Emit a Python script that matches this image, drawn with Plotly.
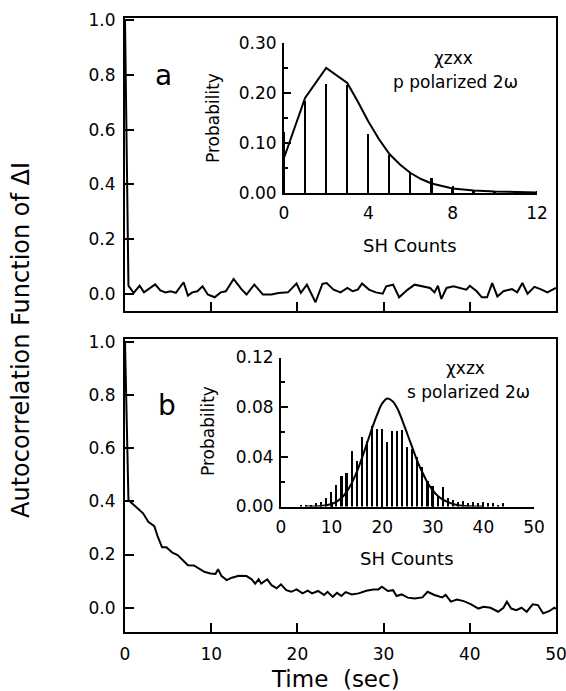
import plotly.graph_objects as go

# ---------------- data ----------------
# panel a : autocorrelation, chi_zxx
time_a = [0, 0.4, 1.0, 1.7, 2.2, 2.7, 3.5, 4.1, 4.7, 5.3,
          5.9, 6.8, 7.3, 7.8, 8.4, 9.0, 9.6, 10.4, 11.1, 11.7,
          12.6, 13.5, 14.1, 15.0, 16.0, 17.0, 17.8, 18.9, 19.9, 20.4,
          21.1, 22.1, 22.9, 23.4, 24.2, 25.0, 25.8, 26.4, 27.0, 27.5,
          28.3, 29.1, 29.9, 30.3, 31.1, 31.8, 32.8, 33.6, 34.4, 35.4,
          35.9, 36.3, 36.7, 37.3, 38.1, 38.9, 39.6, 40.0, 40.8, 41.4,
          42.0, 42.6, 43.2, 43.9, 44.9, 45.5, 46.1, 46.7, 47.5, 48.2,
          49.0, 49.6, 50.0]
corr_a = [1.0, 0.03, 0.004, 0.03, 0.006, 0.016, 0.035, 0.013, 0.006, 0.01,
          0.004, 0.043, -0.006, 0.006, 0.01, 0.028, -0.002, -0.012, 0.006, 0.01,
          0.055, 0.018, -0.002, 0.034, -0.002, -0.002, 0.004, 0.006, 0.038, 0.004,
          0.034, -0.03, 0.037, 0.04, 0.016, 0.006, 0.022, 0.01, 0.016, 0.038,
          0.016, 0.006, 0.001, 0.028, 0.034, -0.012, 0.016, 0.034, 0.028, 0.022,
          0.006, 0.03, -0.018, 0.022, 0.028, 0.022, 0.016, 0.03, 0.01, -0.012,
          -0.012, 0.04, -0.009, 0.01, 0.018, 0.006, 0.04, 0.001, 0.026, 0.018,
          0.006, 0.016, 0.022]

# panel b : autocorrelation, chi_xzx
time_b = [0, 0.4, 0.9, 2.1, 2.7, 3.4, 3.8, 4.3, 4.8, 5.5,
          6.1, 6.7, 7.3, 8.0, 8.6, 9.2, 9.9, 10.5, 10.8, 11.2,
          11.8, 12.4, 13.2, 14.1, 14.7, 15.1, 15.5, 15.8, 16.5, 17.0,
          17.6, 18.1, 18.7, 19.3, 19.9, 20.6, 21.2, 21.7, 22.4, 23.1,
          23.5, 24.1, 24.6, 25.1, 25.6, 26.3, 27.1, 28.0, 28.8, 29.4,
          29.8, 30.5, 31.1, 31.5, 32.1, 32.8, 33.6, 34.5, 35.1, 35.9,
          36.8, 37.2, 37.8, 38.5, 39.3, 40.1, 41.0, 41.6, 42.4, 43.3,
          43.9, 44.3, 44.8, 45.4, 46.0, 46.6, 47.3, 47.9, 48.5, 49.2,
          49.8, 50.0]
corr_b = [1.0, 0.405, 0.39, 0.355, 0.323, 0.307, 0.267, 0.227, 0.227, 0.207,
          0.198, 0.177, 0.16, 0.159, 0.148, 0.135, 0.129, 0.127, 0.145, 0.119,
          0.104, 0.113, 0.12, 0.119, 0.107, 0.091, 0.107, 0.091, 0.107, 0.085,
          0.073, 0.088, 0.066, 0.06, 0.069, 0.054, 0.064, 0.054, 0.063, 0.048,
          0.06, 0.041, 0.056, 0.044, 0.059, 0.05, 0.054, 0.064, 0.069, 0.069,
          0.079, 0.063, 0.066, 0.044, 0.05, 0.038, 0.035, 0.039, 0.06, 0.048,
          0.039, 0.048, 0.023, 0.031, 0.025, 0.014, -0.003, 0.004, 0.0, -0.015,
          0.0, 0.023, -0.003, -0.009, 0.0, -0.015, 0.013, 0.01, -0.021, -0.013,
          0.0, -0.005]

# inset a : SH count histogram (p polarized)
counts_a = [0, 1, 2, 3, 4, 5, 6, 7, 8, 9, 10, 11, 12]
prob_a = [0.123, 0.185, 0.219, 0.217, 0.118, 0.077, 0.04, 0.03, 0.01, 0.007, 0.004, 0.003, 0.003]
fit_a_x = [0, 1, 2, 3, 3.5, 4, 4.5, 5, 5.5, 6, 6.5, 7, 8, 9, 10, 11, 12]
fit_a_y = [0.07, 0.19, 0.25, 0.22, 0.183, 0.143, 0.108, 0.078, 0.057, 0.04, 0.028, 0.019,
           0.009, 0.005, 0.003, 0.002, 0.001]

# inset b : SH count histogram (s polarized)
counts_b = list(range(4, 45))
prob_b = [0.002, 0.001, 0.002, 0.003, 0.004, 0.007, 0.012, 0.018, 0.025, 0.027,
          0.045, 0.037, 0.056, 0.053, 0.065, 0.063, 0.063, 0.052, 0.061, 0.061,
          0.062, 0.048, 0.047, 0.04, 0.032, 0.021, 0.017, 0.009, 0.016, 0.007,
          0.006, 0.004, 0.005, 0.003, 0.004, 0.003, 0.004, 0.003, 0.003, 0.002,
          0.003]
fit_b_x = [5, 8, 10, 11, 12, 13, 14, 15, 16, 17, 18, 19, 20, 21, 22, 23, 24, 25,
           26, 27, 28, 29, 30, 31, 32, 33, 34, 35, 37, 40]
fit_b_y = [0.0, 0.0005, 0.002, 0.004, 0.007, 0.012, 0.019, 0.028, 0.039, 0.051, 0.063,
           0.074, 0.083, 0.087, 0.085, 0.079, 0.069, 0.058, 0.047, 0.036, 0.027, 0.019,
           0.013, 0.0085, 0.0055, 0.0035, 0.002, 0.001, 0.0003, 0.0]

main_yticks = [0.0, 0.2, 0.4, 0.6, 0.8, 1.0]
time_ticks = [0, 10, 20, 30, 40, 50]

# ---------------- layout helpers ----------------
W, H = 566, 691
FONT = "DejaVu Sans"


def px(x):
    return x / W


def py(y):
    return 1 - y / H


fig = go.Figure()

line = dict(color="black", width=2)
fig.add_trace(go.Scatter(x=time_a, y=corr_a, mode="lines", line=line, xaxis="x", yaxis="y",
                         showlegend=False))
fig.add_trace(go.Scatter(x=time_b, y=corr_b, mode="lines", line=line, xaxis="x2", yaxis="y2",
                         showlegend=False))
fig.add_trace(go.Bar(x=counts_a, y=prob_a, width=0.09, marker=dict(color="black", line_width=0),
                     xaxis="x3", yaxis="y3", showlegend=False))
fig.add_trace(go.Scatter(x=fit_a_x, y=fit_a_y, mode="lines", line=line, xaxis="x3", yaxis="y3",
                         showlegend=False))
fig.add_trace(go.Bar(x=counts_b, y=prob_b, width=0.32, marker=dict(color="black", line_width=0),
                     xaxis="x4", yaxis="y4", showlegend=False))
fig.add_trace(go.Scatter(x=fit_b_x, y=fit_b_y, mode="lines", line=line, xaxis="x4", yaxis="y4",
                         line_shape="spline", showlegend=False))

common = dict(showgrid=False, zeroline=False, showline=True, linecolor="black",
              automargin=False, tickcolor="black", ticklabeloverflow="allow",
              tickfont=dict(family=FONT, size=17, color="black"))

main_x = dict(common, range=[0, 50], tickvals=time_ticks, ticks="inside", ticklen=9,
              tickwidth=2, linewidth=2, mirror=True, domain=[px(125), px(556)])
main_y = dict(common, tickvals=main_yticks, tickformat=".1f", ticks="inside", ticklen=9,
              tickwidth=2, linewidth=2, mirror=True, ticklabelstandoff=4)

fig.update_layout(
    width=W, height=H, margin=dict(l=0, r=0, t=0, b=0, autoexpand=False),
    paper_bgcolor="white", plot_bgcolor="rgba(0,0,0,0)",
    font=dict(family=FONT, color="black"),
    bargap=0,
    xaxis=dict(main_x, anchor="y", showticklabels=False),
    yaxis=dict(main_y, anchor="x", range=[-0.062, 1.007], domain=[py(311), py(18)]),
    xaxis2=dict(main_x, anchor="y2", ticklabelstandoff=6),
    yaxis2=dict(main_y, anchor="x2", range=[-0.09, 1.009], domain=[py(631.7), py(339.3)]),
    xaxis3=dict(common, anchor="y3", range=[0, 12], tickvals=[0, 4, 8, 12], ticks="inside",
                ticklen=7, tickwidth=2, linewidth=2, domain=[px(284), px(537)],
                ticklabelstandoff=4),
    yaxis3=dict(common, anchor="x3", range=[0, 0.30], tickvals=[0, 0.1, 0.2, 0.3],
                tickformat=".2f", ticks="inside", ticklen=7, tickwidth=2, linewidth=2,
                ticklabelstandoff=2,
                minor=dict(ticks="inside", ticklen=4, tickwidth=1.5, dtick=0.05, tick0=0),
                domain=[py(193), py(43)]),
    xaxis4=dict(common, anchor="y4", range=[0, 50], tickvals=[0, 10, 20, 30, 40, 50],
                ticks="inside", ticklen=5, tickwidth=2, linewidth=2,
                domain=[px(281), px(534)], ticklabelstandoff=4),
    yaxis4=dict(common, anchor="x4", range=[0, 0.12], tickvals=[0, 0.04, 0.08, 0.12],
                tickformat=".2f", ticks="inside", ticklen=7, tickwidth=2, linewidth=2,
                ticklabelstandoff=2,
                minor=dict(ticks="inside", ticklen=4, tickwidth=1.5, dtick=0.02, tick0=0),
                domain=[py(506.5), py(357.5)]),
)


def ann(text, x, y, size, angle=0):
    fig.add_annotation(text=text, x=px(x), y=py(y), xref="paper", yref="paper",
                       showarrow=False, xanchor="center", yanchor="middle",
                       textangle=angle, font=dict(family=FONT, size=size, color="black"))


ann("a", 163, 75, 28)
ann("b", 167, 405, 28)
ann("χzxx", 453, 58, 17)
ann("p polarized 2ω", 455, 82, 17)
ann("χxzx", 465, 368, 17)
ann("s polarized 2ω", 468, 392, 17)
ann("SH Counts", 410, 245, 18)
ann("SH Counts", 407, 558, 18)
ann("Probability", 213, 118, 17, -90)
ann("Probability", 208, 431, 17, -90)
ann("Time  (sec)", 335, 679, 23)
ann("Autocorrelation Function of ΔI", 21, 340, 24, -90)

# remove the browser's default 8px body margin so the figure sits at (0, 0)
fig.write_html("out.html", config={"displayModeBar": False},
               post_script="document.body.style.margin='0px';")
